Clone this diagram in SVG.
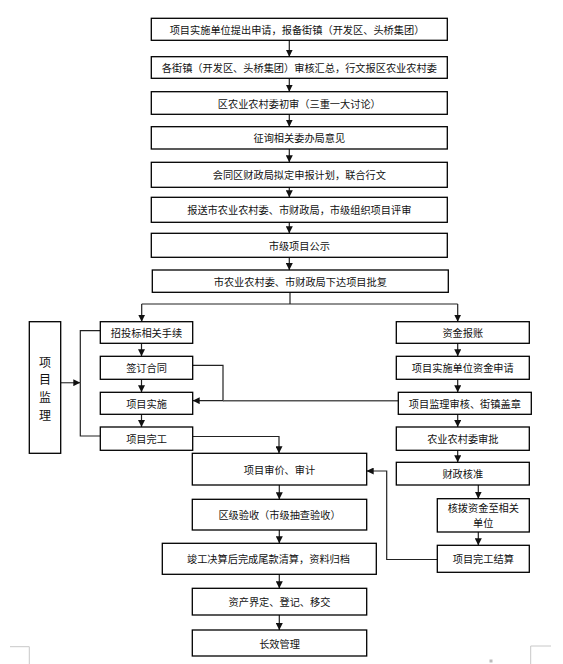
<svg xmlns="http://www.w3.org/2000/svg" width="563" height="664" viewBox="0 0 563 664">
<defs>
<marker id="ah" markerUnits="userSpaceOnUse" markerWidth="7" markerHeight="7" refX="7" refY="3.5" orient="auto">
<path d="M0,0 L7,3.5 L0,7 z" fill="#111"/>
</marker>
<style>
.box{fill:#fff;stroke:#000;stroke-width:1.3}
.t{font-family:"Noto Sans CJK SC","Noto Sans",sans-serif;font-size:10.2px;fill:#111;text-anchor:middle;dominant-baseline:central}
.big{font-size:12px}
.c{fill:none;stroke:#222;stroke-width:1.2}
.g{fill:none;stroke:#555;stroke-width:1.4}
.a{marker-end:url(#ah)}
.pm{fill:none;stroke:#c8c8c8;stroke-width:1}
</style>
</defs>
<rect width="563" height="664" fill="#fff"/>

<g id="connectors">
<path class="c a" d="M289.3,40.3 V56.7"/>
<path class="c a" d="M289.3,78.3 V91.7"/>
<path class="c a" d="M289.3,114.3 V126.7"/>
<path class="c a" d="M289.3,149 V162.3"/>
<path class="c a" d="M289.3,187.3 V197.3"/>
<path class="c a" d="M289.3,222.3 V233.3"/>
<path class="c a" d="M289.3,257.3 V270"/>
<path class="c" d="M290,292.3 V304 M141.7,304 H457.7"/>
<path class="c a" d="M141.7,304 V321.7"/>
<path class="c a" d="M457.7,304 V321.7"/>
<path class="c a" d="M141.5,343.3 V356.3"/>
<path class="c a" d="M141.5,379.3 V392.3"/>
<path class="c a" d="M141.5,414.3 V427"/>
<path class="c" d="M100.3,330.7 H80.3 V436 H100.3"/>
<path class="g a" d="M60.7,382.7 H80.3"/>
<path class="c a" d="M192.7,365.3 H223 V400.7 H192.7"/>
<path class="g" d="M398.3,400.7 H223"/>
<path class="c a" d="M192.7,436.5 H279 V453.3"/>
<path class="c a" d="M457.7,343.3 V356.3"/>
<path class="c a" d="M457.7,379.3 V392.3"/>
<path class="c a" d="M457.7,414.3 V427"/>
<path class="c a" d="M457.7,450.3 V462.3"/>
<path class="c a" d="M478.3,485 V498.7"/>
<path class="c a" d="M478.3,532 V545.3"/>
<path class="c a" d="M437.3,559.5 H386.7 V471 H366.7"/>
<path class="c a" d="M279.3,485 V499.3"/>
<path class="c a" d="M279.3,530 V543.3"/>
<path class="c a" d="M279.3,574.3 V588.3"/>
<path class="c a" d="M279.3,615 V630"/>
</g>

<g id="n1"><rect class="box" x="151.3" y="18.3" width="296" height="22"/><text class="t" x="297" y="29.3">项目实施单位提出申请，报备街镇（开发区、头桥集团）</text></g>
<g id="n2"><rect class="box" x="151.3" y="56.7" width="296" height="21.6"/><text class="t" x="299.3" y="67.5">各街镇（开发区、头桥集团）审核汇总，行文报区农业农村委</text></g>
<g id="n3"><rect class="box" x="151.3" y="91.7" width="296" height="22.6"/><text class="t" x="299.3" y="103">区农业农村委初审（三重一大讨论）</text></g>
<g id="n4"><rect class="box" x="151.3" y="126.7" width="296" height="22.3"/><text class="t" x="299.3" y="137.8">征询相关委办局意见</text></g>
<g id="n5"><rect class="box" x="151.3" y="162.3" width="296" height="25"/><text class="t" x="299.3" y="174.8">会同区财政局拟定申报计划，联合行文</text></g>
<g id="n6"><rect class="box" x="151.3" y="197.3" width="296" height="25"/><text class="t" x="299.3" y="209.8">报送市农业农村委、市财政局，市级组织项目评审</text></g>
<g id="n7"><rect class="box" x="151.3" y="233.3" width="296" height="24"/><text class="t" x="299.3" y="245.3">市级项目公示</text></g>
<g id="n8"><rect class="box" x="152.3" y="270" width="296" height="22.3"/><text class="t" x="300.3" y="281.1">市农业农村委、市财政局下达项目批复</text></g>

<g id="jianli"><rect class="box" x="29.3" y="321.7" width="31.4" height="131.6"/>
<text class="t big" x="45" y="361">项</text><text class="t big" x="45" y="378.6">目</text><text class="t big" x="45" y="396.4">监</text><text class="t big" x="45" y="414.2">理</text></g>

<g id="l1"><rect class="box" x="100.3" y="321.7" width="92.4" height="21.6"/><text class="t" x="146.5" y="332.5">招投标相关手续</text></g>
<g id="l2"><rect class="box" x="100.3" y="356.3" width="92.4" height="23"/><text class="t" x="146.5" y="367.8">签订合同</text></g>
<g id="l3"><rect class="box" x="100.3" y="392.3" width="92.4" height="22"/><text class="t" x="146.5" y="403.3">项目实施</text></g>
<g id="l4"><rect class="box" x="100.3" y="427" width="92.4" height="23.3"/><text class="t" x="146.5" y="438.6">项目完工</text></g>

<g id="r1"><rect class="box" x="396.3" y="321.7" width="133" height="21.6"/><text class="t" x="462.8" y="332.5">资金报账</text></g>
<g id="r2"><rect class="box" x="396.3" y="356.3" width="133" height="23"/><text class="t" x="462.8" y="367.8">项目实施单位资金申请</text></g>
<g id="r3"><rect class="box" x="398.3" y="392.3" width="133" height="22"/><text class="t" x="464.8" y="403.3">项目监理审核、街镇盖章</text></g>
<g id="r4"><rect class="box" x="396.3" y="427" width="133" height="23.3"/><text class="t" x="462.8" y="438.6">农业农村委审批</text></g>
<g id="r5"><rect class="box" x="396.3" y="462.3" width="133" height="22.7"/><text class="t" x="462.8" y="473.6">财政核准</text></g>
<g id="r6"><rect class="box" x="437.3" y="498.7" width="92" height="33.3"/><text class="t" x="483.3" y="507.8">核拨资金至相关</text><text class="t" x="483.3" y="522.8">单位</text></g>
<g id="r7"><rect class="box" x="437.3" y="545.3" width="92" height="27"/><text class="t" x="483.3" y="558.8">项目完工结算</text></g>

<g id="m1"><rect class="box" x="192.3" y="453.3" width="174.4" height="31.7"/><text class="t" x="279.5" y="469.1">项目审价、审计</text></g>
<g id="m2"><rect class="box" x="192.3" y="499.3" width="174.4" height="30.7"/><text class="t" x="279.5" y="514.6">区级验收（市级抽查验收）</text></g>
<g id="m3"><rect class="box" x="162.3" y="543.3" width="214" height="31"/><text class="t" x="268.5" y="558.8">竣工决算后完成尾款清算，资料归档</text></g>
<g id="m4"><rect class="box" x="192.3" y="588.3" width="174.4" height="26.7"/><text class="t" x="279.5" y="601.6">资产界定、登记、移交</text></g>
<g id="m5"><rect class="box" x="192.3" y="630" width="174.4" height="26"/><text class="t" x="279.5" y="643">长效管理</text></g>

<g id="pagemarks">
<path class="pm" d="M10,646.7 H29.3 V664"/>
<path class="pm" d="M551,646 H530.7 V664"/>
<rect x="489.5" y="659.5" width="3" height="3" fill="#bbb"/>
</g>
</svg>
